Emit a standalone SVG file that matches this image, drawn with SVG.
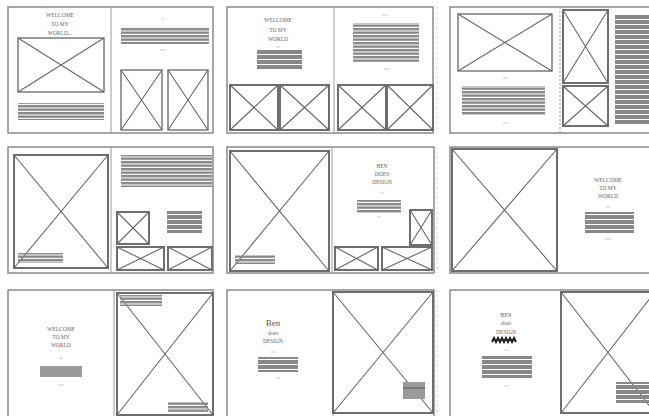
<svg xmlns="http://www.w3.org/2000/svg" width="649" height="416" viewBox="0 0 649 416">
<style>
.pg{fill:#fff;stroke:#8a8a8a;stroke-width:1.5}
.dv{stroke:#9a9a9a;stroke-width:1}
.im{fill:none;stroke:#666;stroke-width:1.3}
.imb{fill:none;stroke:#6e6e6e;stroke-width:2}
.x{stroke:#666;stroke-width:1.1}
.tx{fill:url(#stripe)}
.blk{fill:url(#stripe2)}
.t{font-family:"Liberation Serif",serif;font-size:5.5px;fill:#666;text-anchor:middle}
.mk{stroke:#c8c8c8;stroke-width:1}
</style>
<defs>
<pattern id="stripe" width="10" height="3.5" patternUnits="userSpaceOnUse"><rect width="10" height="2.4" fill="#888"/></pattern>
<pattern id="stripe2" width="10" height="5" patternUnits="userSpaceOnUse"><rect width="10" height="4" fill="#888"/></pattern>
</defs>
<rect width="649" height="416" fill="#fff"/>

<g id="spread1">
<rect class="pg" x="8" y="7" width="205" height="126"/>
<line class="dv" x1="111" y1="7" x2="111" y2="133"/>
<text class="t" x="60" y="17">WELCOME</text>
<text class="t" x="60" y="26">TO MY</text>
<text class="t" x="60" y="35">WORLD...</text>
<rect class="im" x="18" y="38" width="86" height="54"/>
<path class="x" d="M18 38L104 92M104 38L18 92"/>
<rect class="tx" x="18" y="103" width="86" height="17"/>
<line class="mk" x1="162" y1="19" x2="164" y2="19"/>
<rect class="tx" x="121" y="27" width="88" height="17"/>
<line class="mk" x1="160" y1="50" x2="166" y2="50"/>
<rect class="im" x="121" y="70" width="41" height="60"/>
<path class="x" d="M121 70L162 130M162 70L121 130"/>
<rect class="im" x="168" y="70" width="40" height="60"/>
<path class="x" d="M168 70L208 130M208 70L168 130"/>
</g>

<g id="spread2">
<rect class="pg" x="227" y="7" width="206" height="126"/>
<line class="dv" x1="334" y1="7" x2="334" y2="133"/>
<text class="t" x="278" y="22">WELCOME</text>
<text class="t" x="278" y="32">TO MY</text>
<text class="t" x="278" y="41">WORLD</text>
<line class="mk" x1="276" y1="47" x2="280" y2="47"/>
<rect class="blk" x="257" y="49" width="45" height="20"/>
<line class="mk" x1="382" y1="15" x2="388" y2="15"/>
<rect class="tx" x="353" y="23" width="66" height="39"/>
<line class="mk" x1="384" y1="69" x2="390" y2="69"/>
<rect class="imb" x="230" y="85" width="48" height="45"/>
<path class="x" d="M230 85L278 130M278 85L230 130"/>
<rect class="imb" x="280" y="85" width="49" height="45"/>
<path class="x" d="M280 85L329 130M329 85L280 130"/>
<rect class="imb" x="338" y="85" width="48" height="45"/>
<path class="x" d="M338 85L386 130M386 85L338 130"/>
<rect class="imb" x="387" y="85" width="46" height="45"/>
<path class="x" d="M387 85L433 130M433 85L387 130"/>
</g>

<g id="spread3">
<line x1="437" y1="7" x2="437" y2="133" stroke="#ccc" stroke-width="1" stroke-dasharray="2 3"/>
<rect class="pg" x="450" y="7" width="205" height="126"/>
<line class="dv" x1="560" y1="7" x2="560" y2="133" stroke-dasharray="2 2"/>
<rect class="im" x="458" y="14" width="94" height="57"/>
<path class="x" d="M458 14L552 71M552 14L458 71"/>
<line class="mk" x1="503" y1="78" x2="508" y2="78"/>
<rect class="tx" x="462" y="86" width="83" height="29"/>
<line class="mk" x1="503" y1="123" x2="508" y2="123"/>
<rect class="imb" x="563" y="10" width="45" height="73"/>
<path class="x" d="M563 10L608 83M608 10L563 83"/>
<rect class="imb" x="563" y="86" width="45" height="40"/>
<path class="x" d="M563 86L608 126M608 86L563 126"/>
<rect class="blk" x="615" y="15" width="40" height="110"/>
</g>

<g id="spread4">
<rect class="pg" x="8" y="147" width="205" height="126"/>
<line class="dv" x1="111" y1="147" x2="111" y2="273"/>
<rect class="imb" x="14" y="155" width="94" height="113"/>
<path class="x" d="M14 155L108 268M108 155L14 268"/>
<rect class="tx" x="18" y="253" width="45" height="10"/>
<rect class="tx" x="121" y="155" width="91" height="32"/>
<rect class="imb" x="117" y="212" width="32" height="32"/>
<path class="x" d="M117 212L149 244M149 212L117 244"/>
<rect class="blk" x="167" y="211" width="35" height="22"/>
<rect class="imb" x="117" y="247" width="47" height="23"/>
<path class="x" d="M117 247L164 270M164 247L117 270"/>
<rect class="imb" x="168" y="247" width="44" height="23"/>
<path class="x" d="M168 247L212 270M212 247L168 270"/>
</g>

<g id="spread5">
<rect class="pg" x="227" y="147" width="207" height="126"/>
<line class="dv" x1="332" y1="147" x2="332" y2="273"/>
<rect class="imb" x="230" y="151" width="99" height="120"/>
<path class="x" d="M230 151L329 271M329 151L230 271"/>
<rect class="tx" x="235" y="255" width="40" height="9"/>
<text class="t" x="382" y="168">BEN</text>
<text class="t" x="382" y="176">DOES</text>
<text class="t" x="382" y="184">DESIGN</text>
<line class="mk" x1="380" y1="193" x2="384" y2="193"/>
<rect class="tx" x="357" y="200" width="44" height="13"/>
<line class="mk" x1="377" y1="217" x2="381" y2="217"/>
<rect class="imb" x="410" y="210" width="22" height="35"/>
<path class="x" d="M410 210L432 245M432 210L410 245"/>
<rect class="imb" x="335" y="247" width="43" height="23"/>
<path class="x" d="M335 247L378 270M378 247L335 270"/>
<rect class="imb" x="382" y="247" width="50" height="23"/>
<path class="x" d="M382 247L432 270M432 247L382 270"/>
</g>

<g id="spread6">
<line x1="437" y1="147" x2="437" y2="273" stroke="#ccc" stroke-width="1" stroke-dasharray="2 3"/>
<rect class="pg" x="450" y="147" width="205" height="126"/>
<rect class="imb" x="452" y="149" width="105" height="122" stroke-width="2.5"/>
<path class="x" d="M452 149L557 271M557 149L452 271"/>
<text class="t" x="608" y="182">WELCOME</text>
<text class="t" x="608" y="190">TO MY</text>
<text class="t" x="608" y="198">WORLD</text>
<line class="mk" x1="606" y1="207" x2="610" y2="207"/>
<rect class="blk" x="585" y="212" width="49" height="21"/>
<line class="mk" x1="605" y1="239" x2="611" y2="239"/>
</g>

<g id="spread7">
<rect class="pg" x="8" y="290" width="205" height="130"/>
<line class="dv" x1="114" y1="290" x2="114" y2="416"/>
<text class="t" x="61" y="331">WELCOME</text>
<text class="t" x="61" y="339">TO MY</text>
<text class="t" x="61" y="347">WORLD</text>
<line class="mk" x1="59" y1="358" x2="63" y2="358"/>
<rect fill="#9a9a9a" x="40" y="366" width="42" height="11"/>
<line class="mk" x1="58" y1="385" x2="64" y2="385"/>
<rect class="imb" x="117" y="293" width="96" height="122"/>
<path class="x" d="M117 293L213 415M213 293L117 415"/>
<rect class="tx" x="120" y="295" width="42" height="11"/>
<rect class="tx" x="168" y="402" width="40" height="11"/>
</g>

<g id="spread8">
<rect class="pg" x="227" y="290" width="207" height="130"/>
<line class="dv" x1="333" y1="290" x2="333" y2="416"/>
<text x="273" y="326" font-family="Liberation Serif,serif" font-size="9" fill="#555" text-anchor="middle">Ben</text>
<text class="t" x="273" y="335" font-size="4">does</text>
<text class="t" x="273" y="343">DESIGN</text>
<line class="mk" x1="271" y1="352" x2="275" y2="352"/>
<rect class="blk" x="258" y="357" width="40" height="15"/>
<line class="mk" x1="276" y1="378" x2="280" y2="378"/>
<rect class="imb" x="333" y="292" width="100" height="121" stroke-width="2.5"/>
<path class="x" d="M333 292L433 413M433 292L333 413"/>
<rect fill="#9a9a9a" x="403" y="382" width="22" height="17"/>
<line x1="403" y1="388" x2="425" y2="388" stroke="#555" stroke-width="1"/>
</g>

<g id="spread9">
<line x1="437" y1="290" x2="437" y2="416" stroke="#ccc" stroke-width="1" stroke-dasharray="2 3"/>
<rect class="pg" x="450" y="290" width="205" height="130"/>
<text class="t" x="506" y="317">BEN</text>
<text class="t" x="506" y="325" font-size="4">does</text>
<text class="t" x="506" y="334">DESIGN</text>
<path d="M492 342l2-4 2 4 2-4 2 4 2-4 2 4 2-4 2 4 2-4 2 4 2-4 2 4" fill="none" stroke="#222" stroke-width="2"/>
<line class="mk" x1="504" y1="350" x2="509" y2="350"/>
<rect class="blk" x="482" y="356" width="50" height="22"/>
<line class="mk" x1="504" y1="386" x2="509" y2="386"/>
<rect class="imb" x="561" y="292" width="94" height="121" stroke-width="2.5"/>
<path class="x" d="M561 292L655 413M655 292L561 413"/>
<rect class="blk" x="616" y="382" width="35" height="21"/>
</g>
</svg>
